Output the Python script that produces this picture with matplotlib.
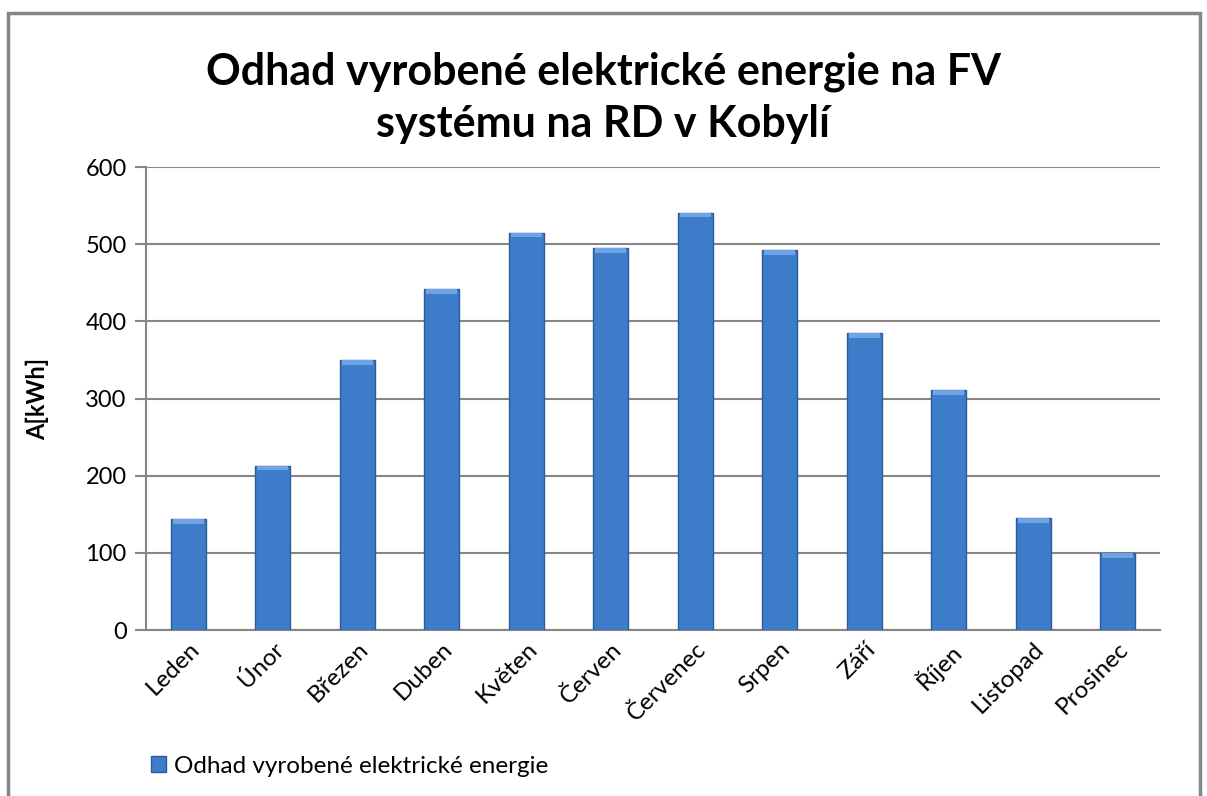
import matplotlib
matplotlib.use("Agg")
import matplotlib.pyplot as plt
from matplotlib.patches import Rectangle

# data
months = ["Leden", "Únor", "Březen", "Duben", "Květen", "Červen",
          "Červenec", "Srpen", "Září", "Říjen", "Listopad", "Prosinec"]
energy = [144, 213, 350, 442, 515, 495, 541, 492, 385, 311, 145, 100]
yticks = [0, 100, 200, 300, 400, 500, 600]

title = "Odhad vyrobené elektrické energie na FV\nsystému na RD v Kobylí"
series_name = "Odhad vyrobené elektrické energie"
ylabel = "A[kWh]"

plt.rcParams['font.family'] = ['Lato', 'DejaVu Sans']
grid_col = '#868686'

fig = plt.figure(figsize=(12.07, 7.96), dpi=100)
ax = fig.add_axes([0.121, 0.2085, 0.840, 0.5815])

x = range(len(months))
bars = ax.bar(x, energy, width=0.41, color='#3d7cc9', edgecolor='#2b5c9c',
              linewidth=1.0, zorder=3, label=series_name)

# light bevel strip on top of each bar
for b in bars:
    ax.bar(b.get_x() + b.get_width() / 2, 6, bottom=b.get_height() - 6,
           width=b.get_width() * 0.9, color='#6fa3e3', linewidth=0, zorder=4)

ax.set_xlim(-0.5, len(months) - 0.5)
ax.set_ylim(0, 600)
ax.set_yticks(yticks)
ax.yaxis.grid(True, color=grid_col, linewidth=1.5)
ax.set_axisbelow(True)

for side in ['top', 'right']:
    ax.spines[side].set_visible(False)
for side in ['left', 'bottom']:
    ax.spines[side].set_color(grid_col)
    ax.spines[side].set_linewidth(1.5)

ax.tick_params(axis='y', direction='out', length=8, width=1.5, color=grid_col,
               labelsize=17, pad=6)
ax.tick_params(axis='x', length=0, labelsize=17.5, pad=6)
ax.set_xticks(list(x))
ax.set_xticklabels(months, rotation=45, ha='right', rotation_mode='anchor')

ax.set_ylabel(ylabel, fontsize=17, fontweight='bold', labelpad=26)
fig.text(0.5, 0.877, title, ha='center', va='center', fontsize=31,
         fontweight='bold', linespacing=1.35)

leg = fig.legend(handles=[bars], labels=[series_name], loc='lower left',
                 bbox_to_anchor=(0.107, -0.003), frameon=False, fontsize=17.5,
                 handlelength=0.6, handleheight=0.6, handletextpad=0.35)

# outer chart frame
fig.patches.append(Rectangle((8 / 1207, -0.05), 1192 / 1207, 1 - 13 / 796 + 0.05,
                             transform=fig.transFigure, fill=False,
                             edgecolor=grid_col, linewidth=2.5))

fig.savefig("out.png", dpi=100)
